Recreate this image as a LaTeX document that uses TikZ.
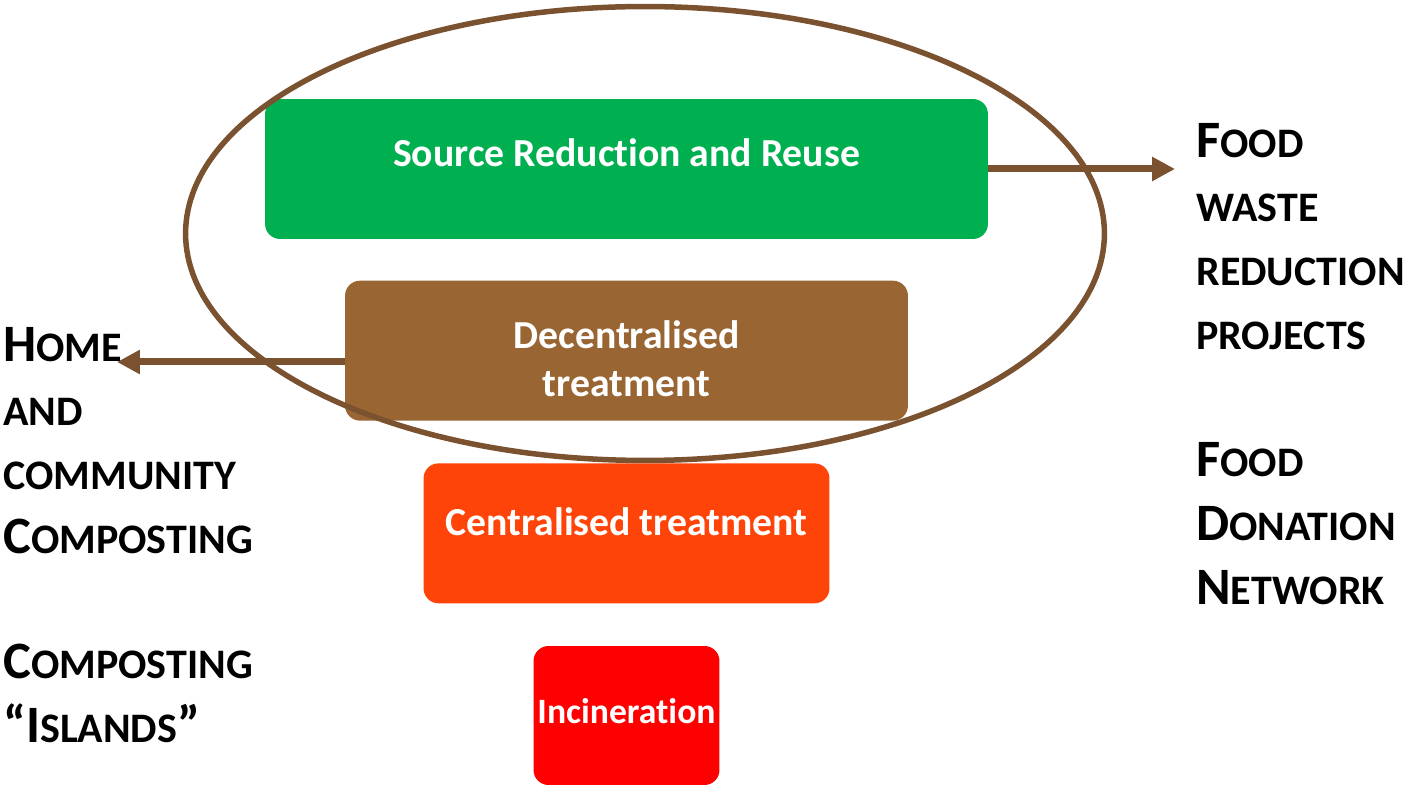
\documentclass[tikz,border=0pt]{standalone}
\usepackage{fontspec}
\setmainfont{Carlito}[Ligatures=CommonOff]
\usepackage{tikz}
\usetikzlibrary{arrows.meta, positioning}
\definecolor{srcGreen}{HTML}{00B050}
\definecolor{decBrown}{HTML}{996633}
\definecolor{cenOrange}{HTML}{FF4409}
\definecolor{incRed}{HTML}{FF0000}
\definecolor{ringBrown}{HTML}{7A5230}
\newcommand{\initial}[1]{{\fontsize{29.9}{36.4}\selectfont #1}}

\begin{document}
\begin{tikzpicture}[
  x=0.02cm, y=-0.02cm,
  node distance=0.84cm,
  box/.style={rectangle, rounded corners=0.3cm, inner sep=0pt, minimum height=2.8cm,
              align=center, text=white, font=\bfseries\fontsize{22.6}{27.3}\selectfont},
  greenBox/.style={box, fill=srcGreen, minimum width=14.46cm, text height=0.556cm, text depth=0.636cm},
  brownBox/.style={box, fill=decBrown, minimum width=11.26cm},
  orangeBox/.style={box, fill=cenOrange, minimum width=8.12cm, text height=0.556cm, text depth=0.476cm},
  redBox/.style={box, fill=incRed, minimum width=3.72cm, minimum height=2.78cm,
                 font=\bfseries\fontsize{20.3}{24.5}\selectfont, text height=0.5cm, text depth=0.2cm},
  sideTxt/.style={anchor=north west, inner sep=0pt, align=left,
                  font=\bfseries\fontsize{23.9}{36.4}\selectfont},
  arr/.style={-{Triangle[length=0.46cm, width=0.46cm]}, line width=0.14cm, draw=ringBrown},
  ring/.style={draw=ringBrown, line width=0.11cm}
]
\useasboundingbox (0,0) rectangle (1408,786);
% hierarchy boxes
\node[greenBox] (src) at (626.5,169) {Source Reduction and Reuse};
\node[brownBox, below=0.82cm of src] (dec) {\rule{0pt}{0.876cm}Decentralised\\treatment};
\node[orangeBox, below=of dec] (cen) {Centralised treatment};
\node[redBox, below=of cen] (inc) {Incineration};
% ring round the first two levels
\draw[ring] (645,233.5) ellipse [x radius=9.19cm, y radius=4.54cm];
% side texts
\node[sideTxt] (home) at (3,327) {\initial{H}OME\\AND\\COMMUNITY\\\initial{C}OMPOSTING};
\node[sideTxt] (islands) at (3,644) {\initial{C}OMPOSTING\\\initial{“I}SLANDS\initial{”}};
\node[sideTxt] (waste) at (1196,123) {\initial{F}OOD\\WASTE\\REDUCTION\\PROJECTS};
\node[sideTxt] (donation) at (1196,442) {\initial{F}OOD\\\initial{D}ONATION\\\initial{N}ETWORK};
% arrows
\coordinate (foodTip) at (1175,169);
\coordinate (homeTip) at (117,362);
\draw[arr] (src.east) -- (foodTip);
\draw[arr] (dec.west |- homeTip) -- (homeTip);
\end{tikzpicture}
\end{document}
